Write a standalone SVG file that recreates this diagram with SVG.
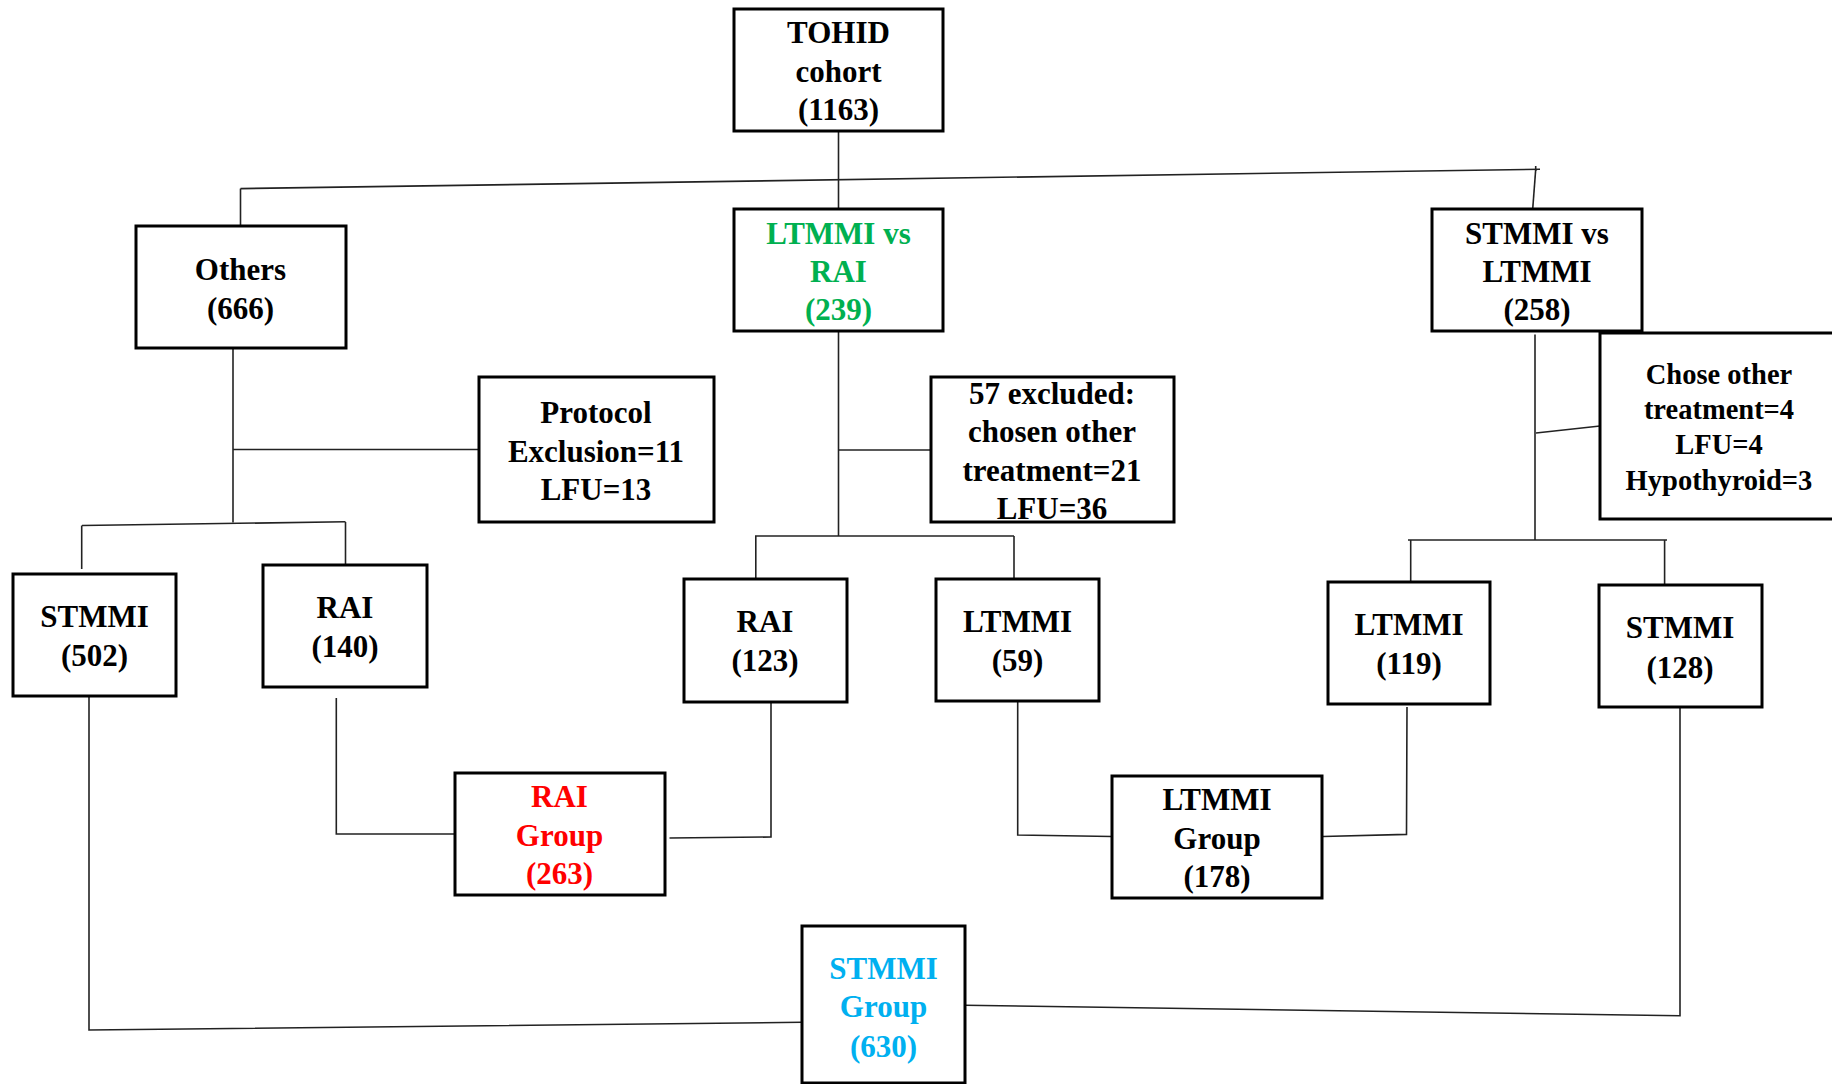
<svg xmlns="http://www.w3.org/2000/svg" width="1832" height="1084" viewBox="0 0 1832 1084">
<style>
.box{fill:#fff;stroke:#000;stroke-width:3}
.t{font-family:"Liberation Serif","Times New Roman",serif;font-weight:bold;font-size:31px;text-anchor:middle;fill:#000}
.s{font-size:28.5px}
.green{fill:#00B050}
.red{fill:#FF0000}
.cyan{fill:#00B0F0}
.c line,.c polyline{stroke:#222;stroke-width:1.6;fill:none}
</style>
<rect width="1832" height="1084" fill="#fff"/>
<g class="c" id="connectors">
<line x1="838.5" y1="131" x2="838.5" y2="209"/>
<line x1="240.5" y1="188.6" x2="1540" y2="169.3"/>
<line x1="1535.7" y1="166" x2="1535.7" y2="171"/>
<line x1="240.5" y1="188.6" x2="240.5" y2="230"/>
<line x1="1535.7" y1="169.5" x2="1532.7" y2="209"/>
<line x1="233" y1="348" x2="233" y2="522.5"/>
<line x1="233" y1="449.5" x2="479" y2="449.5"/>
<line x1="82" y1="525.5" x2="345.5" y2="521.8"/>
<line x1="81.7" y1="525.5" x2="81.7" y2="569"/>
<line x1="345.5" y1="522" x2="345.5" y2="566"/>
<line x1="838.5" y1="331" x2="838.5" y2="536"/>
<line x1="838.5" y1="450" x2="931" y2="450"/>
<line x1="755" y1="536" x2="1014" y2="536"/>
<line x1="755.8" y1="536" x2="755.8" y2="579"/>
<line x1="1014" y1="536" x2="1014" y2="579"/>
<line x1="1535" y1="334.6" x2="1535" y2="540"/>
<line x1="1536" y1="433" x2="1600" y2="426"/>
<line x1="1408" y1="540" x2="1667" y2="540"/>
<line x1="1410.7" y1="540" x2="1410.7" y2="582"/>
<line x1="1664.6" y1="540" x2="1664.6" y2="585"/>
<polyline points="336.3,698 336.3,834 455,834"/>
<polyline points="669.5,838 771,837 771,702"/>
<polyline points="1017.7,702 1017.7,835 1112,836.5"/>
<polyline points="1323,836.5 1406.5,834.4 1407,707"/>
<polyline points="89,696 89,1030 802,1022.3"/>
<polyline points="965,1005.3 1680,1015.7 1680,708"/>
</g>
<g id="tohid"><rect class="box" x="734" y="9" width="209" height="122"/>
<text class="t" x="838.5" y="43">TOHID</text><text class="t" x="838.5" y="82">cohort</text><text class="t" x="838.5" y="120">(1163)</text></g>
<g id="others"><rect class="box" x="136" y="226" width="210" height="122"/>
<text class="t" x="240.5" y="280">Others</text><text class="t" x="240.5" y="319">(666)</text></g>
<g id="ltmmi-vs-rai"><rect class="box" x="734" y="209" width="209" height="122"/>
<text class="t green" x="838.5" y="244">LTMMI vs</text><text class="t green" x="838.5" y="282">RAI</text><text class="t green" x="838.5" y="320">(239)</text></g>
<g id="stmmi-vs-ltmmi"><rect class="box" x="1432" y="209" width="210" height="122"/>
<text class="t" x="1537" y="244">STMMI vs</text><text class="t" x="1537" y="282">LTMMI</text><text class="t" x="1537" y="320">(258)</text></g>
<g id="protocol"><rect class="box" x="479" y="377" width="235" height="145"/>
<text class="t" x="596" y="423">Protocol</text><text class="t" x="596" y="462">Exclusion=11</text><text class="t" x="596" y="500">LFU=13</text></g>
<g id="excluded57"><rect class="box" x="931" y="377" width="243" height="145"/>
<text class="t" x="1052" y="404">57 excluded:</text><text class="t" x="1052" y="442">chosen other</text><text class="t" x="1052" y="481">treatment=21</text><text class="t" x="1052" y="519">LFU=36</text></g>
<g id="chose-other"><rect class="box" x="1600" y="333" width="245" height="186"/>
<text class="t s" x="1719" y="384">Chose other</text><text class="t s" x="1719" y="419">treatment=4</text><text class="t s" x="1719" y="454">LFU=4</text><text class="t s" x="1719" y="490">Hypothyroid=3</text></g>
<g id="stmmi502"><rect class="box" x="13" y="574" width="163" height="122"/>
<text class="t" x="94.5" y="627">STMMI</text><text class="t" x="94.5" y="666">(502)</text></g>
<g id="rai140"><rect class="box" x="263" y="565" width="164" height="122"/>
<text class="t" x="345" y="618">RAI</text><text class="t" x="345" y="657">(140)</text></g>
<g id="rai123"><rect class="box" x="684" y="579" width="163" height="123"/>
<text class="t" x="765" y="631.5">RAI</text><text class="t" x="765" y="671">(123)</text></g>
<g id="ltmmi59"><rect class="box" x="936" y="579" width="163" height="122"/>
<text class="t" x="1017.5" y="632">LTMMI</text><text class="t" x="1017.5" y="671">(59)</text></g>
<g id="ltmmi119"><rect class="box" x="1328" y="582" width="162" height="122"/>
<text class="t" x="1409" y="635">LTMMI</text><text class="t" x="1409" y="674">(119)</text></g>
<g id="stmmi128"><rect class="box" x="1599" y="585" width="163" height="122"/>
<text class="t" x="1680" y="638">STMMI</text><text class="t" x="1680" y="678">(128)</text></g>
<g id="rai-group"><rect class="box" x="455" y="773" width="210" height="122"/>
<text class="t red" x="559.5" y="807">RAI</text><text class="t red" x="559.5" y="846">Group</text><text class="t red" x="559.5" y="884">(263)</text></g>
<g id="ltmmi-group"><rect class="box" x="1112" y="776" width="210" height="122"/>
<text class="t" x="1217" y="810">LTMMI</text><text class="t" x="1217" y="849">Group</text><text class="t" x="1217" y="887">(178)</text></g>
<g id="stmmi-group"><rect class="box" x="802" y="926" width="163" height="157"/>
<text class="t cyan" x="883.5" y="979">STMMI</text><text class="t cyan" x="883.5" y="1017">Group</text><text class="t cyan" x="883.5" y="1057">(630)</text></g>
</svg>
